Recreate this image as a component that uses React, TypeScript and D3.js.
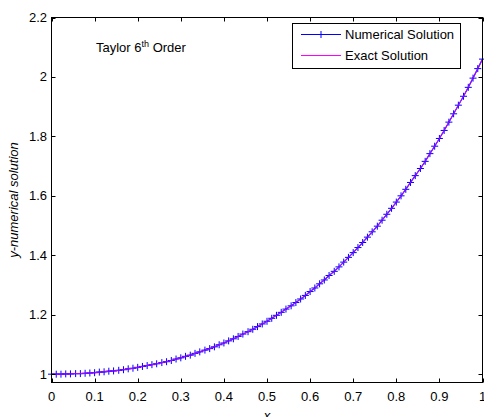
import { useRef, useEffect } from "react";
import * as d3 from "d3";

// x grid of the Taylor method (step ~ 1/90)
const xValues = [
  0, 0.011, 0.022, 0.033, 0.044, 0.056, 0.067, 0.078, 0.089, 0.1,
  0.111, 0.122, 0.133, 0.144, 0.156, 0.167, 0.178, 0.189, 0.2, 0.211,
  0.222, 0.233, 0.244, 0.256, 0.267, 0.278, 0.289, 0.3, 0.311, 0.322,
  0.333, 0.344, 0.356, 0.367, 0.378, 0.389, 0.4, 0.411, 0.422, 0.433,
  0.444, 0.456, 0.467, 0.478, 0.489, 0.5, 0.511, 0.522, 0.533, 0.544,
  0.556, 0.567, 0.578, 0.589, 0.6, 0.611, 0.622, 0.633, 0.644, 0.656,
  0.667, 0.678, 0.689, 0.7, 0.711, 0.722, 0.733, 0.744, 0.756, 0.767,
  0.778, 0.789, 0.8, 0.811, 0.822, 0.833, 0.844, 0.856, 0.867, 0.878,
  0.889, 0.9, 0.911, 0.922, 0.933, 0.944, 0.956, 0.967, 0.978, 0.989, 1,
];

const numericalSolution = [
  1.0, 1.0, 1.0, 1.001, 1.001, 1.002, 1.002, 1.003, 1.004, 1.005,
  1.007, 1.008, 1.01, 1.011, 1.013, 1.015, 1.018, 1.02, 1.023, 1.026,
  1.029, 1.032, 1.035, 1.039, 1.042, 1.046, 1.051, 1.055, 1.06, 1.064,
  1.07, 1.075, 1.081, 1.086, 1.092, 1.099, 1.105, 1.112, 1.119, 1.127,
  1.135, 1.143, 1.151, 1.16, 1.169, 1.178, 1.188, 1.198, 1.208, 1.219,
  1.23, 1.241, 1.253, 1.265, 1.278, 1.29, 1.304, 1.317, 1.332, 1.346,
  1.361, 1.377, 1.393, 1.409, 1.426, 1.443, 1.461, 1.479, 1.498, 1.518,
  1.538, 1.558, 1.579, 1.6, 1.622, 1.645, 1.668, 1.692, 1.716, 1.742,
  1.767, 1.793, 1.82, 1.848, 1.876, 1.905, 1.935, 1.965, 1.996, 2.028, 2.06,
];

// exact solution lies on top of the numerical one
const exactSolution = numericalSolution;

const xTicks = [0, 0.1, 0.2, 0.3, 0.4, 0.5, 0.6, 0.7, 0.8, 0.9, 1];
const yTicks = [1, 1.2, 1.4, 1.6, 1.8, 2, 2.2];
const legendLabels = ["Numerical Solution", "Exact Solution"];

export default function App() {
  const ref = useRef<SVGSVGElement>(null);

  useEffect(() => {
    const svg = d3.select(ref.current);
    svg.selectAll("*").remove();

    const font = "'Liberation Sans', Arial, Helvetica, sans-serif";
    const fs = 13;
    const left = 51.5;
    const right = 482.5;
    const top = 17.5;
    const bottom = 382.5;

    const x = d3.scaleLinear().domain([0, 1]).range([left, right]);
    const y = d3.scaleLinear().domain([0.972, 2.2]).range([bottom, top]);

    const numData = xValues.map((d, i) => [d, numericalSolution[i]] as [number, number]);
    const exData = xValues.map((d, i) => [d, exactSolution[i]] as [number, number]);

    const line = d3
      .line<[number, number]>()
      .x((d) => x(d[0]))
      .y((d) => y(d[1]));

    svg
      .append("rect")
      .attr("width", 484)
      .attr("height", 417)
      .attr("fill", "white");

    // numerical solution: blue line + '+' markers
    svg
      .append("path")
      .datum(numData)
      .attr("d", line)
      .attr("fill", "none")
      .attr("stroke", "#0000ff")
      .attr("stroke-width", 1.2);

    const m = 3.5;
    svg
      .append("g")
      .selectAll("path")
      .data(numData)
      .join("path")
      .attr(
        "d",
        (d) =>
          `M${x(d[0]) - m},${y(d[1])}H${x(d[0]) + m}M${x(d[0])},${y(d[1]) - m}V${y(d[1]) + m}`
      )
      .attr("stroke", "#0000ff")
      .attr("stroke-width", 1)
      .attr("fill", "none");

    // exact solution: magenta line
    svg
      .append("path")
      .datum(exData)
      .attr("d", line)
      .attr("fill", "none")
      .attr("stroke", "#ff00ff")
      .attr("stroke-width", 0.8);

    // axes box
    svg
      .append("rect")
      .attr("x", left)
      .attr("y", top)
      .attr("width", right - left)
      .attr("height", bottom - top)
      .attr("fill", "none")
      .attr("stroke", "black")
      .attr("stroke-width", 1);

    const tl = 4;
    const ticks = svg.append("g").attr("stroke", "black").attr("stroke-width", 1);
    xTicks.forEach((t) => {
      const px = Math.round(x(t)) + 0.5;
      ticks.append("line").attr("x1", px).attr("x2", px).attr("y1", bottom).attr("y2", bottom - tl);
      ticks.append("line").attr("x1", px).attr("x2", px).attr("y1", top).attr("y2", top + tl);
    });
    yTicks.forEach((t) => {
      const py = Math.round(y(t)) + 0.5;
      ticks.append("line").attr("x1", left).attr("x2", left + tl).attr("y1", py).attr("y2", py);
      ticks.append("line").attr("x1", right).attr("x2", right - tl).attr("y1", py).attr("y2", py);
    });

    svg
      .append("g")
      .selectAll("text")
      .data(xTicks)
      .join("text")
      .attr("x", (d) => x(d))
      .attr("y", 401)
      .attr("text-anchor", "middle")
      .attr("font-family", font)
      .attr("font-size", fs)
      .text((d) => String(d));

    svg
      .append("g")
      .selectAll("text")
      .data(yTicks)
      .join("text")
      .attr("x", 47)
      .attr("y", (d) => y(d) + 4.5)
      .attr("text-anchor", "end")
      .attr("font-family", font)
      .attr("font-size", fs)
      .text((d) => String(d));

    // axis labels
    svg
      .append("text")
      .attr("x", x(0.5))
      .attr("y", 420)
      .attr("text-anchor", "middle")
      .attr("font-family", font)
      .attr("font-style", "italic")
      .attr("font-size", fs)
      .text("x");

    svg
      .append("text")
      .attr("transform", `translate(18,${(top + bottom) / 2}) rotate(-90)`)
      .attr("text-anchor", "middle")
      .attr("font-family", font)
      .attr("font-style", "italic")
      .attr("font-size", fs)
      .text("y-numerical solution");

    // annotation
    const title = svg
      .append("text")
      .attr("x", 96)
      .attr("y", 52)
      .attr("font-family", font)
      .attr("font-size", fs);
    title.append("tspan").text("Taylor 6");
    title.append("tspan").attr("font-size", 9).attr("dy", -5).text("th");
    title.append("tspan").attr("dy", 5).text(" Order");

    // legend
    const lg = svg.append("g");
    lg.append("rect")
      .attr("x", 292.5)
      .attr("y", 23.5)
      .attr("width", 168)
      .attr("height", 45)
      .attr("fill", "white")
      .attr("stroke", "black")
      .attr("stroke-width", 1);
    const rows = [34.5, 55.5];
    const colors = ["#0000ff", "#ff00ff"];
    legendLabels.forEach((lab, i) => {
      lg.append("line")
        .attr("x1", 301)
        .attr("x2", 341)
        .attr("y1", rows[i])
        .attr("y2", rows[i])
        .attr("stroke", colors[i])
        .attr("stroke-width", 1);
      lg.append("text")
        .attr("x", 345)
        .attr("y", rows[i] + 4.5)
        .attr("font-family", font)
        .attr("font-size", fs)
        .text(lab);
    });
    lg.append("path")
      .attr("d", `M${321 - m},${rows[0]}H${321 + m}M321,${rows[0] - m}V${rows[0] + m}`)
      .attr("stroke", "#0000ff")
      .attr("stroke-width", 1);
  }, []);

  return (
    <svg
      ref={ref}
      width={484}
      height={417}
      style={{ position: "absolute", left: 0, top: 0 }}
    />
  );
}
